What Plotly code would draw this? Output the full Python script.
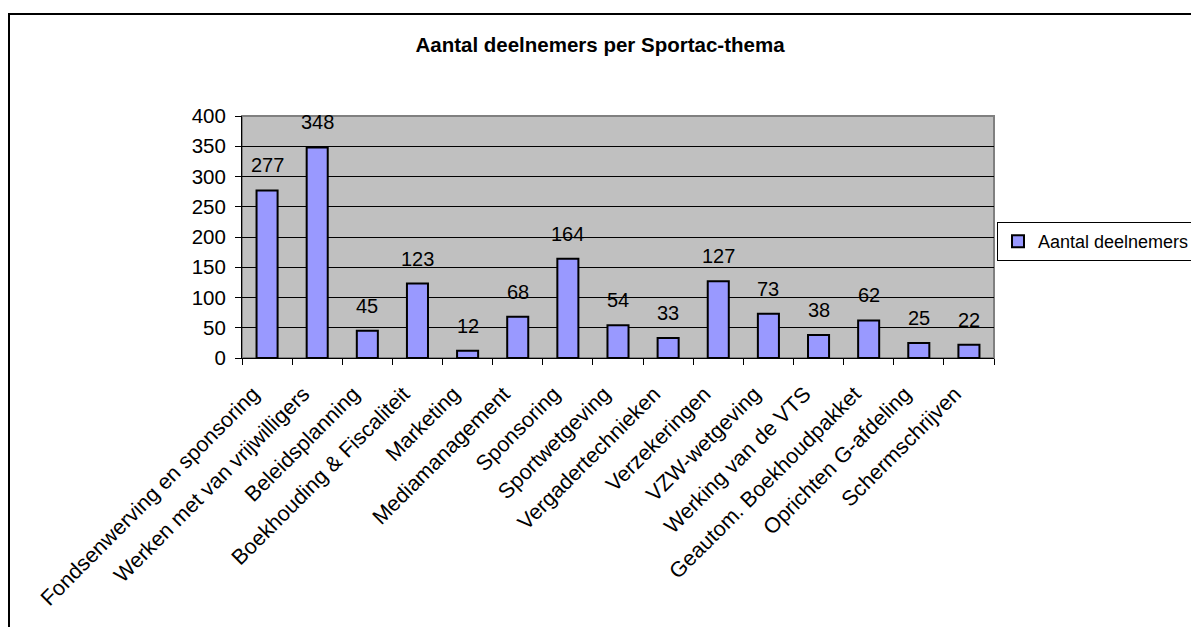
import plotly.graph_objects as go

categories = [
    "Fondsenwerving en sponsoring",
    "Werken met van vrijwilligers",
    "Beleidsplanning",
    "Boekhouding & Fiscaliteit",
    "Marketing",
    "Mediamanagement",
    "Sponsoring",
    "Sportwetgeving",
    "Vergadertechnieken",
    "Verzekeringen",
    "VZW-wetgeving",
    "Werking van de VTS",
    "Geautom. Boekhoudpakket",
    "Oprichten G-afdeling",
    "Schermschrijven",
]
values = [277, 348, 45, 123, 12, 68, 164, 54, 33, 127, 73, 38, 62, 25, 22]
series_name = "Aantal deelnemers"
title_text = "Aantal deelnemers per Sportac-thema"
y_ticks = [0, 50, 100, 150, 200, 250, 300, 350, 400]

# page is rendered with an 8px body margin
OFF = 8
W, H = 1199 - 2 * OFF, 635 - 2 * OFF
# plot area in window pixels
PL, PR, PT, PB = 242, 994, 116, 358
L, R, T, B = PL - OFF, PR - OFF, PT - OFF, PB - OFF
FONT = "Liberation Sans, Arial, sans-serif"

fig = go.Figure()
fig.add_trace(go.Bar(
    x=categories, y=values, name=series_name,
    marker=dict(color="#9999FF", line=dict(color="black", width=2)),
    showlegend=True,
))

for c, v in zip(categories, values):
    fig.add_annotation(x=c, y=v, text=str(v), showarrow=False,
                       yanchor="middle", yshift=25,
                       font=dict(family=FONT, size=20, color="black"))

pw, ph = R - L, B - T
def px(xw):
    return (xw - OFF - L) / pw
def py(yw):
    return (B - (yw - OFF)) / ph

# outer chart frame
fig.add_shape(type="rect", xref="paper", yref="paper",
              x0=px(9), x1=px(1230), y0=py(680), y1=py(14),
              line=dict(color="black", width=2), layer="above")
# plot area border
fig.add_shape(type="rect", xref="paper", yref="paper",
              x0=0, x1=1, y0=0, y1=1,
              line=dict(color="#808080", width=2), layer="below")

fig.update_layout(
    width=W, height=H,
    margin=dict(l=L, r=W - R, t=T, b=H - B, autoexpand=False),
    paper_bgcolor="white", plot_bgcolor="#C0C0C0",
    font=dict(family=FONT, size=18, color="black"),
    title=dict(text="<b>" + title_text + "</b>", x=(600 - OFF) / W, xanchor="center",
               xref="container", y=1 - (45 - OFF) / H, yref="container", yanchor="middle",
               font=dict(family=FONT, size=20.5, color="black")),
    bargap=0.58,
    showlegend=True,
    legend=dict(x=px(997), y=py(222), xanchor="left", yanchor="top",
                bgcolor="white", bordercolor="black", borderwidth=1,
                font=dict(family=FONT, size=18, color="black"),
                itemwidth=30, tracegroupgap=0),
    xaxis=dict(type="category", tickangle=-45, tickson="boundaries",
               ticks="outside", ticklen=6, tickcolor="black", tickwidth=1,
               ticklabelshift=-14, ticklabelstandoff=14,
               showline=True, linecolor="black", linewidth=1,
               showgrid=False, tickfont=dict(family=FONT, size=21.5)),
    yaxis=dict(range=[0, 400], tickvals=y_ticks, ticks="outside", ticklen=6,
               ticklabelstandoff=5,
               tickcolor="black", showline=True, linecolor="black", linewidth=1,
               showgrid=True, gridcolor="black", gridwidth=1,
               zeroline=False, tickfont=dict(family=FONT, size=20.5)),
)

fig.write_html("out.html")
